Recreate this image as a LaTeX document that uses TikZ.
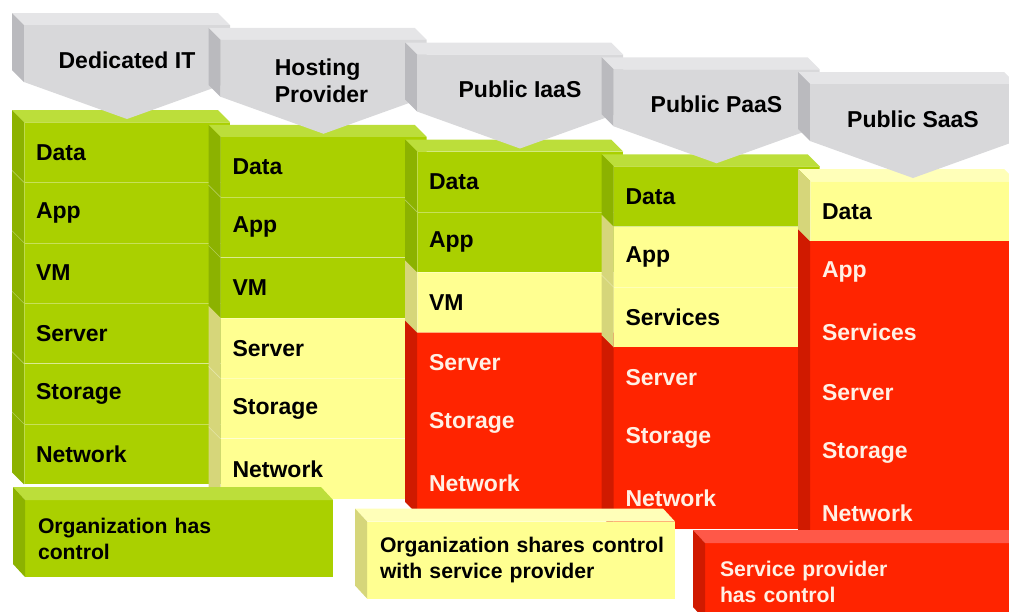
\documentclass[tikz,border=0pt]{standalone}
\usepackage{fontspec}
\setmainfont{Liberation Sans}
\usetikzlibrary{positioning}
\definecolor{grfront}{RGB}{170,208,0}
\definecolor{grtop}{RGB}{188,222,58}
\definecolor{grside}{RGB}{140,178,0}
\definecolor{ylfront}{RGB}{255,255,145}
\definecolor{yltop}{RGB}{255,255,185}
\definecolor{ylside}{RGB}{214,214,122}
\definecolor{rdfront}{RGB}{255,36,0}
\definecolor{rdtop}{RGB}{255,88,72}
\definecolor{rdside}{RGB}{208,26,0}
\definecolor{rdtext}{RGB}{255,240,228}
\definecolor{hdfront}{RGB}{216,216,218}
\definecolor{hdtop}{RGB}{229,229,231}
\definecolor{hdside}{RGB}{186,186,190}
\begin{document}
\begin{tikzpicture}[x=1pt, y=-1pt, node distance=60.4pt, font=\fontsize{23}{27}\selectfont\bfseries,
  cell/.style = {rectangle, minimum width=206pt, minimum height=60.4pt, text width=182pt, inner xsep=12pt, inner ysep=0pt, outer sep=0pt, align=left, draw=white, draw opacity=0.35, line width=0.6pt},
  gcell/.style = {cell, fill=grfront},
  ycell/.style = {cell, fill=ylfront},
  rcell/.style = {cell, fill=rdfront, draw=rdfront, text=rdtext},
  key/.style = {rectangle, minimum width=308pt, minimum height=77pt, text width=282pt, inner xsep=13pt, outer sep=0pt, align=left, font=\fontsize{21.2}{26}\selectfont\bfseries},
  sepline/.style = {white, opacity=0.35, line width=0.6pt}]
  \useasboundingbox (0,0) rectangle (1009,611);

  % Dedicated IT
  \node[gcell] (it-data) at (127,152.2) {Data};
  \node[gcell] (it-app) [below of=it-data] {App};
  \node[gcell] (it-vm) [below of=it-app] {VM};
  \node[gcell] (it-server) [below of=it-vm] {Server};
  \node[gcell] (it-storage) [below of=it-server] {Storage};
  \node[gcell] (it-net) [below of=it-storage] {Network};
  \fill[grtop] (it-data.north west) -- ++(-12,-12) -- ([shift={(-12,-12)}]it-data.north east) -- (it-data.north east) -- cycle;
  \fill[grside] (it-data.north west) -- ++(-12,-12) -- ([shift={(-12,-12)}]it-net.south west) -- (it-net.south west) -- cycle;
  \draw[sepline] (it-app.north west) -- ++(-12,-12) (it-vm.north west) -- ++(-12,-12) (it-server.north west) -- ++(-12,-12) (it-storage.north west) -- ++(-12,-12) (it-net.north west) -- ++(-12,-12);

  % Hosting Provider
  \node[gcell] (host-data) at (323.5,166.95) {Data};
  \node[gcell] (host-app) [below of=host-data] {App};
  \node[gcell] (host-vm) [below of=host-app] {VM};
  \node[ycell] (host-server) [below of=host-vm] {Server};
  \node[ycell] (host-storage) [below of=host-server] {Storage};
  \node[ycell] (host-net) [below of=host-storage] {Network};
  \fill[grtop] (host-data.north west) -- ++(-12,-12) -- ([shift={(-12,-12)}]host-data.north east) -- (host-data.north east) -- cycle;
  \fill[grside] (host-data.north west) -- ++(-12,-12) -- ([shift={(-12,-12)}]host-vm.south west) -- (host-vm.south west) -- cycle;
  \fill[ylside] (host-server.north west) -- ++(-12,-12) -- ([shift={(-12,-12)}]host-net.south west) -- (host-net.south west) -- cycle;
  \draw[sepline] (host-app.north west) -- ++(-12,-12) (host-vm.north west) -- ++(-12,-12) (host-storage.north west) -- ++(-12,-12) (host-net.north west) -- ++(-12,-12);

  % Public IaaS
  \node[gcell] (iaas-data) at (520,181.7) {Data};
  \node[gcell] (iaas-app) [below of=iaas-data] {App};
  \node[ycell] (iaas-vm) [below of=iaas-app] {VM};
  \node[rcell] (iaas-server) [below of=iaas-vm] {Server};
  \node[rcell] (iaas-storage) [below of=iaas-server] {Storage};
  \node[rcell] (iaas-net) [below of=iaas-storage] {Network};
  \fill[grtop] (iaas-data.north west) -- ++(-12,-12) -- ([shift={(-12,-12)}]iaas-data.north east) -- (iaas-data.north east) -- cycle;
  \fill[grside] (iaas-data.north west) -- ++(-12,-12) -- ([shift={(-12,-12)}]iaas-app.south west) -- (iaas-app.south west) -- cycle;
  \fill[ylside] (iaas-vm.north west) -- ++(-12,-12) -- ([shift={(-12,-12)}]iaas-vm.south west) -- (iaas-vm.south west) -- cycle;
  \fill[rdside] (iaas-server.north west) -- ++(-12,-12) -- ([shift={(-12,-12)}]iaas-net.south west) -- (iaas-net.south west) -- cycle;
  \draw[sepline] (iaas-app.north west) -- ++(-12,-12);

  % Public PaaS
  \node[gcell] (paas-data) at (716.5,196.45) {Data};
  \node[ycell] (paas-app) [below of=paas-data] {App};
  \node[ycell] (paas-svc) [below of=paas-app] {Services};
  \node[rcell] (paas-server) [below of=paas-svc] {Server};
  \node[rcell] (paas-storage) [below of=paas-server] {Storage};
  \node[rcell] (paas-net) [below of=paas-storage] {Network};
  \fill[grtop] (paas-data.north west) -- ++(-12,-12) -- ([shift={(-12,-12)}]paas-data.north east) -- (paas-data.north east) -- cycle;
  \fill[grside] (paas-data.north west) -- ++(-12,-12) -- ([shift={(-12,-12)}]paas-data.south west) -- (paas-data.south west) -- cycle;
  \fill[ylside] (paas-app.north west) -- ++(-12,-12) -- ([shift={(-12,-12)}]paas-svc.south west) -- (paas-svc.south west) -- cycle;
  \fill[rdside] (paas-server.north west) -- ++(-12,-12) -- ([shift={(-12,-12)}]paas-net.south west) -- (paas-net.south west) -- cycle;
  \draw[sepline] (paas-svc.north west) -- ++(-12,-12);

  % Public SaaS
  \node[ycell] (saas-data) at (913,211.2) {Data};
  \node[rcell] (saas-app) [below of=saas-data] {App};
  \node[rcell] (saas-svc) [below of=saas-app] {Services};
  \node[rcell] (saas-server) [below of=saas-svc] {Server};
  \node[rcell] (saas-storage) [below of=saas-server] {Storage};
  \node[rcell] (saas-net) [below of=saas-storage] {Network};
  \fill[yltop] (saas-data.north west) -- ++(-12,-12) -- ([shift={(-12,-12)}]saas-data.north east) -- (saas-data.north east) -- cycle;
  \fill[ylside] (saas-data.north west) -- ++(-12,-12) -- ([shift={(-12,-12)}]saas-data.south west) -- (saas-data.south west) -- cycle;
  \fill[rdside] (saas-app.north west) -- ++(-12,-12) -- ([shift={(-12,-12)}]saas-net.south west) -- (saas-net.south west) -- cycle;

  % headers
  \fill[hdtop] (24,25) -- ++(-12,-12) -- ++(206,0) -- ++(12,12) -- cycle;
  \fill[hdside] (24,25) -- ++(-12,-12) -- ++(0,57) -- ++(12,12) -- cycle;
  \fill[hdfront] (24,25) -- ++(206,0) -- ++(0,57) -- ++(-103,37) -- ++(-103,-37) -- cycle;
  \node (hd-it) at (127,60) {Dedicated IT};
  \fill[hdtop] (220.5,39.75) -- ++(-12,-12) -- ++(206,0) -- ++(12,12) -- cycle;
  \fill[hdside] (220.5,39.75) -- ++(-12,-12) -- ++(0,57) -- ++(12,12) -- cycle;
  \fill[hdfront] (220.5,39.75) -- ++(206,0) -- ++(0,57) -- ++(-103,37) -- ++(-103,-37) -- cycle;
  \node[align=left] (hd-host) at (321.5,81) {Hosting\\Provider};
  \fill[hdtop] (417,54.5) -- ++(-12,-12) -- ++(206,0) -- ++(12,12) -- cycle;
  \fill[hdside] (417,54.5) -- ++(-12,-12) -- ++(0,57) -- ++(12,12) -- cycle;
  \fill[hdfront] (417,54.5) -- ++(206,0) -- ++(0,57) -- ++(-103,37) -- ++(-103,-37) -- cycle;
  \node (hd-iaas) at (520,89.5) {Public IaaS};
  \fill[hdtop] (613.5,69.25) -- ++(-12,-12) -- ++(206,0) -- ++(12,12) -- cycle;
  \fill[hdside] (613.5,69.25) -- ++(-12,-12) -- ++(0,57) -- ++(12,12) -- cycle;
  \fill[hdfront] (613.5,69.25) -- ++(206,0) -- ++(0,57) -- ++(-103,37) -- ++(-103,-37) -- cycle;
  \node (hd-paas) at (716.5,104.25) {Public PaaS};
  \fill[hdtop] (810,84) -- ++(-12,-12) -- ++(206,0) -- ++(12,12) -- cycle;
  \fill[hdside] (810,84) -- ++(-12,-12) -- ++(0,57) -- ++(12,12) -- cycle;
  \fill[hdfront] (810,84) -- ++(206,0) -- ++(0,57) -- ++(-103,37) -- ++(-103,-37) -- cycle;
  \node (hd-saas) at (913,119) {Public SaaS};

  % legend
  \node[key, fill=grfront] (key-org) at (179,538.5) {Organization has\\control};
  \fill[grtop] (key-org.north west) -- ++(-12,-13) -- ([shift={(-12,-13)}]key-org.north east) -- (key-org.north east) -- cycle;
  \fill[grside] (key-org.north west) -- ++(-12,-13) -- ([shift={(-12,-13)}]key-org.south west) -- (key-org.south west) -- cycle;
  \node[key, fill=ylfront] (key-shared) at (521,560) {\mbox{Organization shares control}\\with service provider};
  \fill[yltop] (key-shared.north west) -- ++(-12,-13) -- ([shift={(-12,-13)}]key-shared.north east) -- (key-shared.north east) -- cycle;
  \fill[ylside] (key-shared.north west) -- ++(-12,-13) -- ([shift={(-12,-13)}]key-shared.south west) -- (key-shared.south west) -- cycle;
  \node[key, fill=rdfront, text=rdtext, minimum width=320pt, text width=290pt, inner xsep=15pt] (key-provider) at (865,581.5) {Service provider\\has control};
  \fill[rdtop] (key-provider.north west) -- ++(-12,-13) -- ([shift={(-12,-13)}]key-provider.north east) -- (key-provider.north east) -- cycle;
  \fill[rdside] (key-provider.north west) -- ++(-12,-13) -- ([shift={(-12,-13)}]key-provider.south west) -- (key-provider.south west) -- cycle;
\end{tikzpicture}
\end{document}
